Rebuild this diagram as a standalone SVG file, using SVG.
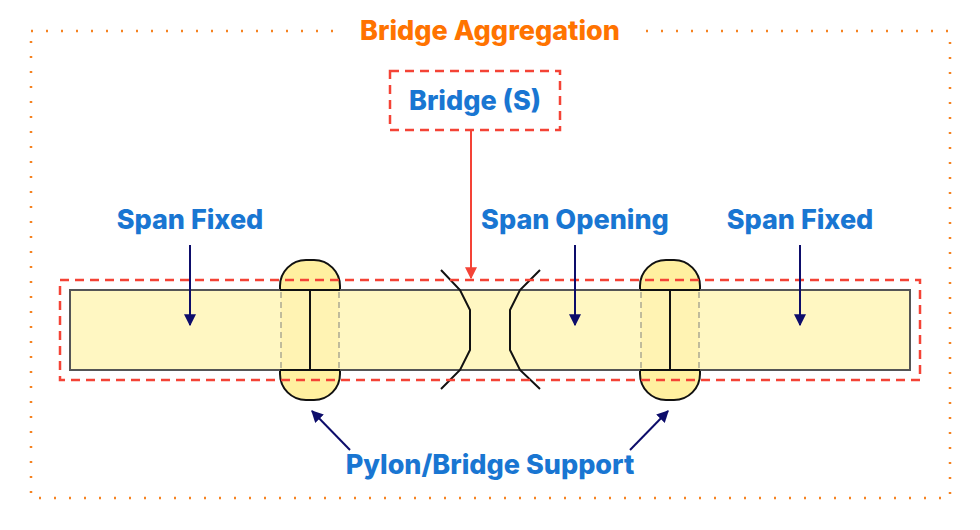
<svg xmlns="http://www.w3.org/2000/svg" width="980" height="530" viewBox="0 0 980 530">
<defs>
<style>
.lbl{font-family:Inter,"Noto Sans",sans-serif;font-weight:800;font-size:27px;fill:#1976D2;text-anchor:middle}
.title{font-family:Inter,"Noto Sans",sans-serif;font-weight:800;font-size:27px;fill:#FF7300;text-anchor:middle}
.navy{stroke:#0D0D6B;stroke-width:2;fill:none}
.pylon{fill:#FFF0A0;stroke:#111;stroke-width:2}
.pmid{fill:#FFEA80;fill-opacity:0.22;stroke:none}
.pdash{stroke:#B0AC94;stroke-width:2;stroke-dasharray:6 4;stroke-opacity:0.8}
.gap{fill:none;stroke:#111;stroke-width:2}
</style>
<marker id="an" viewBox="0 0 10 10" refX="9" refY="5" markerWidth="6" markerHeight="6" orient="auto"><path d="M0,0 L10,5 L0,10 z" fill="#0D0D6B"/></marker>
<marker id="ar" viewBox="0 0 10 10" refX="9" refY="5" markerWidth="6" markerHeight="6" orient="auto"><path d="M0,0 L10,5 L0,10 z" fill="#F44336"/></marker>
</defs>
<rect width="980" height="530" fill="#fff"/>
<g id="aggregation">
<rect x="31" y="31" width="919" height="467" fill="none" stroke="#F58220" stroke-width="2.5" stroke-dasharray="2 13"/>
<rect x="345" y="14" width="290" height="34" fill="#fff"/>
<text class="title" x="490" y="40">Bridge Aggregation</text>
</g>
<g id="bridge-s">
<rect x="390" y="71" width="170" height="59" fill="#fff" stroke="#F44336" stroke-width="2.5" stroke-dasharray="9 6"/>
<text class="lbl" x="475" y="110">Bridge (S)</text>
</g>
<g id="pylon-left"><rect class="pylon" x="280" y="260" width="60" height="140" rx="26"/></g>
<g id="pylon-right"><rect class="pylon" x="640" y="260" width="60" height="140" rx="26"/></g>
<g id="deck">
<rect x="70" y="290" width="840" height="80" fill="#FFF7C2" stroke="#555" stroke-width="2"/>
</g>
<g id="pylon-left-mid">
<rect class="pmid" x="281" y="291" width="58" height="78"/>
<line class="pdash" x1="281" y1="292" x2="281" y2="368"/>
<line class="pdash" x1="339" y1="292" x2="339" y2="368"/>
<line x1="280" y1="290" x2="340" y2="290" stroke="#111" stroke-width="2"/>
<line x1="280" y1="370" x2="340" y2="370" stroke="#111" stroke-width="2"/>
<line x1="310" y1="290" x2="310" y2="370" stroke="#111" stroke-width="2"/>
</g>
<g id="pylon-right-mid">
<rect class="pmid" x="641" y="291" width="58" height="78"/>
<line class="pdash" x1="641" y1="292" x2="641" y2="368"/>
<line class="pdash" x1="699" y1="292" x2="699" y2="368"/>
<line x1="640" y1="290" x2="700" y2="290" stroke="#111" stroke-width="2"/>
<line x1="640" y1="370" x2="700" y2="370" stroke="#111" stroke-width="2"/>
<line x1="670" y1="290" x2="670" y2="370" stroke="#111" stroke-width="2"/>
</g>
<g id="opening">
<path class="gap" d="M441,270 L460,290 L470,310 L470,350 L460,370 L441,389"/>
<path class="gap" d="M540,270 L520,290 L510,310 L510,350 L520,370 L540,389"/>
</g>
<g id="bridge-outline">
<rect x="60" y="280" width="860" height="100" fill="none" stroke="#F44336" stroke-width="2.5" stroke-dasharray="9 6"/>
</g>
<g id="labels">
<text class="lbl" x="190" y="229">Span Fixed</text>
<text class="lbl" x="575" y="229">Span Opening</text>
<text class="lbl" x="800" y="229">Span Fixed</text>
<text class="lbl" x="490" y="474">Pylon/Bridge Support</text>
</g>
<g id="connectors">
<line x1="471" y1="131" x2="471" y2="278" stroke="#F44336" stroke-width="2" marker-end="url(#ar)"/>
<line class="navy" x1="190" y1="245" x2="190" y2="325" marker-end="url(#an)"/>
<line class="navy" x1="575" y1="245" x2="575" y2="325" marker-end="url(#an)"/>
<line class="navy" x1="800" y1="245" x2="800" y2="325" marker-end="url(#an)"/>
<line class="navy" x1="350" y1="450" x2="312" y2="411" marker-end="url(#an)"/>
<line class="navy" x1="630" y1="450" x2="668" y2="411" marker-end="url(#an)"/>
</g>
</svg>
